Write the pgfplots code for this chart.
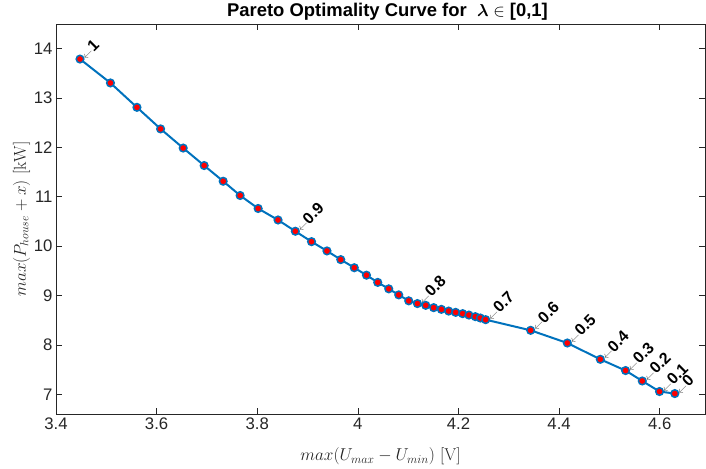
\documentclass[border=0pt]{standalone}
\usepackage[no-math]{fontspec}
\setmainfont{Liberation Sans}
\usepackage{bm}
\usepackage{pgfplots}
\pgfplotsset{compat=1.18}
\definecolor{mblue}{RGB}{0,114,189}
\definecolor{axgray}{RGB}{38,38,38}
\begin{document}
\begin{tikzpicture}
\useasboundingbox (-56bp,-55bp) rectangle (650bp,414bp);
\begin{axis}[
  scale only axis, width=649bp, height=390bp,
  xmin=3.4, xmax=4.69, ymin=6.6, ymax=14.5,
  xtick={3.4,3.6,3.8,4.0,4.2,4.4,4.6}, ytick={7,8,9,10,11,12,13,14},
  tick align=inside, major tick length=6bp,
  axis line style={axgray, line width=0.6bp},
  every tick/.style={axgray, line width=0.6bp},
  tick label style={font=\fontsize{16.8}{20}\selectfont, text=axgray},
  /pgf/number format/assume math mode=true,
  title={\bfseries Pareto Optimality Curve for\ \ $\bm{\lambda}\in$ [0,1]},
  title style={font=\fontsize{18.5}{22}\selectfont, at={(axis description cs:0.5,1)}, anchor=south, yshift=-6bp, xshift=7bp},
  xlabel={$max(U_{max}-U_{min})\ \mathrm{[V]}$},
  ylabel={$max(P_{house}+x)\ \mathrm{[kW]}$},
  label style={font=\fontsize{18.5}{22}\selectfont, text=axgray},
  xlabel style={at={(axis description cs:0.5,-0.108)}, anchor=center},
  ylabel style={at={(axis description cs:-0.053,0.5)}, anchor=center, rotate=0},
]
\addplot[color=mblue, line width=2bp, mark=*, mark size=3.8bp,
  mark options={draw=mblue, fill=red, line width=1.5bp}] coordinates {
(3.4477,13.790) (3.5082,13.306) (3.5609,12.812) (3.6079,12.375) (3.6528,11.987)
(3.6945,11.633) (3.7323,11.315) (3.7660,11.026) (3.8018,10.763) (3.8413,10.530)
(3.8757,10.302) (3.9079,10.091) (3.9386,9.903) (3.9660,9.727) (3.9929,9.563)
(4.0171,9.412) (4.0395,9.266) (4.0614,9.135) (4.0812,9.013) (4.1011,8.892)
(4.1184,8.837) (4.1349,8.801) (4.1507,8.754) (4.1660,8.720) (4.1805,8.685)
(4.1944,8.659) (4.2083,8.633) (4.2208,8.604) (4.2335,8.572) (4.2435,8.544)
(4.2540,8.511) (4.3434,8.295) (4.4163,8.038) (4.4819,7.708) (4.5321,7.480)
(4.5653,7.269) (4.5996,7.055) (4.6300,7.014)
};
\tikzset{lam/.style={rotate=45, anchor=west, inner sep=3bp, font=\bfseries\fontsize{16}{19}\selectfont}}
\newcommand{\arr}{\textcolor{black!70}{\fontsize{11}{12}\selectfont$\leftarrow$}}
\node[lam] at (axis cs:3.4477,13.790) {\arr1};
\node[lam] at (axis cs:3.8757,10.302) {\arr0.9};
\node[lam] at (axis cs:4.1184,8.837) {\arr0.8};
\node[lam] at (axis cs:4.2540,8.511) {\arr0.7};
\node[lam] at (axis cs:4.3434,8.295) {\arr0.6};
\node[lam] at (axis cs:4.4163,8.038) {\arr0.5};
\node[lam] at (axis cs:4.4819,7.708) {\arr0.4};
\node[lam] at (axis cs:4.5321,7.480) {\arr0.3};
\node[lam] at (axis cs:4.5653,7.269) {\arr0.2};
\node[lam] at (axis cs:4.5996,7.055) {\arr0.1};
\node[lam] at (axis cs:4.6300,7.014) {\arr0};
\end{axis}
\end{tikzpicture}
\end{document}
